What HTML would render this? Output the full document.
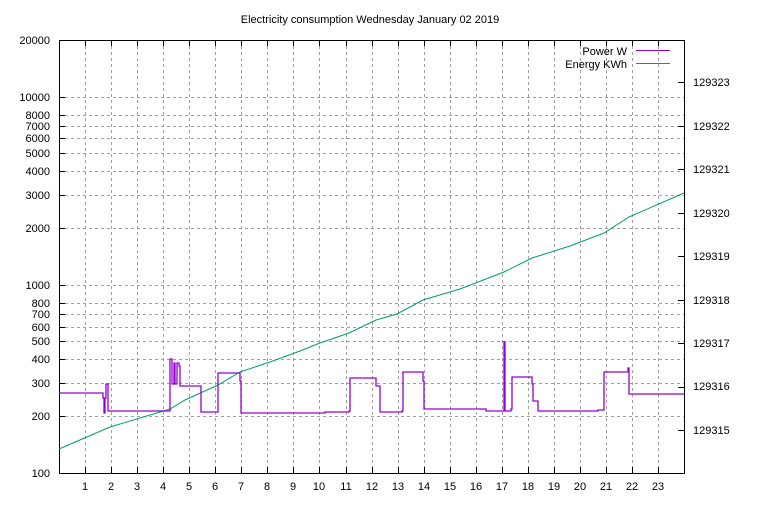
<!DOCTYPE html>
<html><head><meta charset="utf-8"><style>
html,body{margin:0;padding:0;background:#fff;}
svg text{font-family:"Liberation Sans",sans-serif;font-size:11px;fill:#000;}
</style></head><body>
<svg width="768" height="500" xmlns="http://www.w3.org/2000/svg">
<rect width="768" height="500" fill="#fff"/>
<text x="370" y="23" text-anchor="middle">Electricity consumption Wednesday January 02 2019</text>
<g stroke="#a0a0a0" stroke-width="1" stroke-dasharray="3,3" fill="none">
<path d="M85.5 40V473M111.5 40V473M137.5 40V473M163.5 40V473M189.5 40V473M215.5 40V473M241.5 40V473M267.5 40V473M293.5 40V473M319.5 40V473M346.5 40V473M372.5 40V473M398.5 40V473M424.5 40V473M450.5 40V473M476.5 40V473M502.5 40V473M528.5 40V473M554.5 40V473M580.5 40V473M606.5 40V473M632.5 40V473M658.5 40V473"/>
<path d="M59 97.5H684M59 115.5H684M59 126.5H684M59 138.5H684M59 153.5H684M59 171.5H684M59 195.5H684M59 228.5H684M59 285.5H684M59 303.5H684M59 314.5H684M59 327.5H684M59 341.5H684M59 359.5H684M59 383.5H684M59 416.5H684"/>
</g>
<g stroke="#000" stroke-width="1" fill="none">
<rect x="59.5" y="40.5" width="625" height="433"/>
<path d="M59 97.5h6M59 115.5h6M59 126.5h6M59 138.5h6M59 153.5h6M59 171.5h6M59 195.5h6M59 228.5h6M59 285.5h6M59 303.5h6M59 314.5h6M59 327.5h6M59 341.5h6M59 359.5h6M59 383.5h6M59 416.5h6"/>
<path d="M85.5 473v-6M111.5 473v-6M137.5 473v-6M163.5 473v-6M189.5 473v-6M215.5 473v-6M241.5 473v-6M267.5 473v-6M293.5 473v-6M319.5 473v-6M346.5 473v-6M372.5 473v-6M398.5 473v-6M424.5 473v-6M450.5 473v-6M476.5 473v-6M502.5 473v-6M528.5 473v-6M554.5 473v-6M580.5 473v-6M606.5 473v-6M632.5 473v-6M658.5 473v-6"/>
<path d="M85.5 40v6M111.5 40v6M137.5 40v6M163.5 40v6M189.5 40v6M215.5 40v6M241.5 40v6M267.5 40v6M293.5 40v6M319.5 40v6M346.5 40v6M372.5 40v6M398.5 40v6M424.5 40v6M450.5 40v6M476.5 40v6M502.5 40v6M528.5 40v6M554.5 40v6M580.5 40v6M606.5 40v6M632.5 40v6M658.5 40v6"/>
<path d="M678 430.5h6M678 387.5h6M678 343.5h6M678 300.5h6M678 256.5h6M678 213.5h6M678 169.5h6M678 126.5h6M678 82.5h6"/>
</g>
<g text-anchor="end">
<text x="50" y="44">20000</text><text x="50" y="101">10000</text><text x="50" y="119">8000</text><text x="50" y="130">7000</text><text x="50" y="142">6000</text><text x="50" y="157">5000</text><text x="50" y="175">4000</text><text x="50" y="199">3000</text><text x="50" y="232">2000</text><text x="50" y="289">1000</text><text x="50" y="307">800</text><text x="50" y="318">700</text><text x="50" y="331">600</text><text x="50" y="345">500</text><text x="50" y="363">400</text><text x="50" y="387">300</text><text x="50" y="420">200</text><text x="50" y="477">100</text>
</g>
<g text-anchor="middle">
<text x="85" y="490">1</text><text x="111" y="490">2</text><text x="137" y="490">3</text><text x="163" y="490">4</text><text x="189" y="490">5</text><text x="215" y="490">6</text><text x="241" y="490">7</text><text x="267" y="490">8</text><text x="293" y="490">9</text><text x="319" y="490">10</text><text x="346" y="490">11</text><text x="372" y="490">12</text><text x="398" y="490">13</text><text x="424" y="490">14</text><text x="450" y="490">15</text><text x="476" y="490">16</text><text x="502" y="490">17</text><text x="528" y="490">18</text><text x="554" y="490">19</text><text x="580" y="490">20</text><text x="606" y="490">21</text><text x="632" y="490">22</text><text x="658" y="490">23</text>
</g>
<g>
<text x="693" y="434">129315</text><text x="693" y="390">129316</text><text x="693" y="347">129317</text><text x="693" y="304">129318</text><text x="693" y="260">129319</text><text x="693" y="217">129320</text><text x="693" y="173">129321</text><text x="693" y="130">129322</text><text x="693" y="86">129323</text>
</g>
<text x="627" y="55" text-anchor="end">Power W</text>
<text x="627" y="68" text-anchor="end">Energy KWh</text>
<path d="M636 50.5h34" stroke="#9400d3" stroke-width="1"/>
<path d="M636 63.5h34" stroke="#009e73" stroke-width="1"/>
<polyline fill="none" stroke="#009e73" stroke-width="1" points="59,449 110,427 170,409 185,400 218,385 240,372 270,362 300,351 320,343 349,333 376,320 397,314 423,300 460,289 504,272 532,258 570,246 604,233 629,217 684,193"/>
<polyline fill="none" stroke="#9400d3" stroke-width="1.3" points="59,393 103,393 103,398 104,398 104,413 105,413 105,398 106,398 106,384 108,384 108,411 170,411 170,359 172,359 172,384 174,384 174,363 175,363 175,384 177,384 177,363 179,363 179,366 180,366 180,386 201,386 201,412 218,412 218,373 240,373 240,381 241,381 241,413 325,413 325,412 349,412 349,411 350,411 350,378 376,378 376,386 380,386 380,412 402,412 402,411 403,411 403,372 423,372 423,381 424,381 424,409 486,409 486,411 504,411 504,342 505,342 505,411 511,411 511,409 512,409 512,377 532,377 532,384 533,384 533,401 538,401 538,411 598,411 598,410 604,410 604,372 628,372 628,368 629,368 629,394 684,394"/>
</svg>
</body></html>
